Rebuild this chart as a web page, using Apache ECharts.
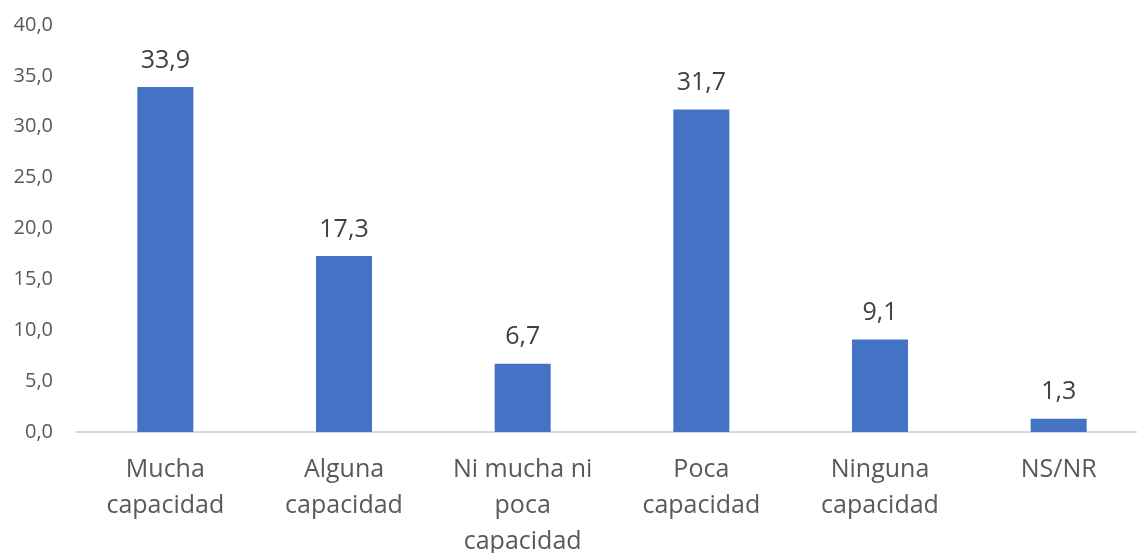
<!DOCTYPE html>
<html><head><meta charset="utf-8">
<script src="https://cdn.jsdelivr.net/npm/echarts@6/dist/echarts.min.js"></script>
<style>html,body{margin:0;padding:0;background:#fff}#c{width:1137px;height:553px}</style>
</head><body><div id="c"></div>
<script>
const categories = ["Mucha\ncapacidad", "Alguna\ncapacidad", "Ni mucha ni\npoca\ncapacidad", "Poca\ncapacidad", "Ninguna\ncapacidad", "NS/NR"];
const values = [33.9, 17.3, 6.7, 31.7, 9.1, 1.3];
const yMin = 0, yMax = 40, yStep = 5;
const fmt = v => v.toFixed(1).replace('.', ',');
const chart = echarts.init(document.getElementById('c'), null, {renderer: 'canvas'});
chart.setOption({
  animation: false,
  textStyle: {fontFamily: 'Open Sans'},
  grid: {left: 76, top: 25, height: 407, width: 1072, containLabel: false, outerBoundsMode: 'none'},
  xAxis: {
    type: 'category', data: categories,
    axisLine: {lineStyle: {color: '#d9d9d9', width: 2}},
    axisTick: {show: false},
    axisLabel: {color: '#595959', fontSize: 25, lineHeight: 36, margin: 20, interval: 0, fontFamily: 'Open Sans'}
  },
  yAxis: {
    type: 'value', min: yMin, max: yMax, interval: yStep,
    splitLine: {show: false}, axisLine: {show: false}, axisTick: {show: false},
    axisLabel: {color: '#595959', fontSize: 20, margin: 23, formatter: fmt, fontFamily: 'Open Sans'}
  },
  series: [{
    type: 'bar', data: values, barWidth: 56,
    itemStyle: {color: '#4472C4'},
    label: {show: true, position: 'top', distance: 14, color: '#404040', fontSize: 25, fontFamily: 'Open Sans', formatter: p => fmt(p.value)}
  }]
});
</script></body></html>
